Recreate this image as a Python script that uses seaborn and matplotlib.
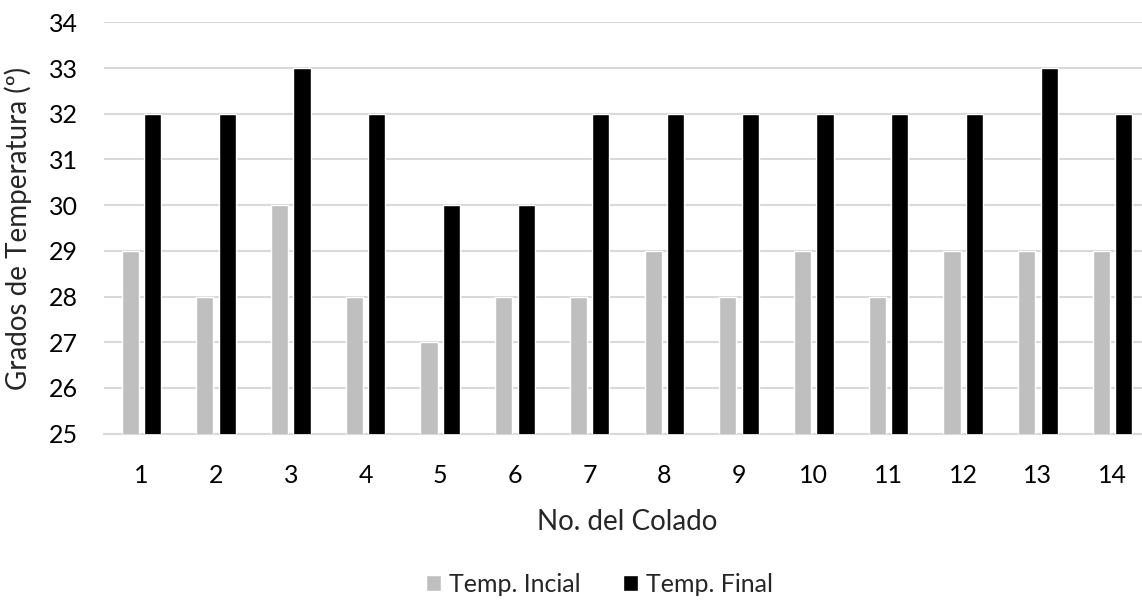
import matplotlib
matplotlib.use("Agg")
import matplotlib.pyplot as plt
import seaborn as sns
import pandas as pd
from matplotlib.patches import Patch

# Temperatures per pour (colado)
colados = [str(i) for i in range(1, 15)]
temp_inicial = [29, 28, 30, 28, 27, 28, 28, 29, 28, 29, 28, 29, 29, 29]
temp_final = [32, 32, 33, 32, 30, 30, 32, 32, 32, 32, 32, 32, 33, 32]
series = ["Temp. Incial", "Temp. Final"]
y_ticks = list(range(25, 35))

df = pd.DataFrame({
    "colado": colados * 2,
    "temp": temp_inicial + temp_final,
    "serie": [series[0]] * len(colados) + [series[1]] * len(colados),
})

sns.set_theme(style="white")
plt.rcParams["font.family"] = ["Lato", "DejaVu Sans"]

fig = plt.figure(figsize=(11.42, 6.0), dpi=100)
ax = fig.add_axes([104 / 1142, 1 - 433.7 / 600, (1150 - 104) / 1142, (433.7 - 22.3) / 600])

sns.barplot(
    data=df, x="colado", y="temp", hue="serie", order=colados, hue_order=series,
    palette=["#bfbfbf", "#000000"], width=0.6, gap=0.23, saturation=1,
    ax=ax, legend=False, zorder=3,
)

ax.set_ylim(25, 34)
ax.set_yticks(y_ticks)
ax.set_xlim(-0.5, len(colados) - 0.5)
ax.grid(axis="y", color="#d9d9d9", linewidth=1.5, zorder=0)
ax.set_axisbelow(True)
for side in ["top", "right", "left"]:
    ax.spines[side].set_visible(False)
ax.spines["bottom"].set_color("#d9d9d9")
ax.spines["bottom"].set_linewidth(1.5)
ax.tick_params(axis="both", length=0, labelsize=18, colors="#000000")
ax.tick_params(axis="y", pad=19)
ax.tick_params(axis="x", pad=22)

ax.set_xlabel("No. del Colado", fontsize=20, labelpad=16)
ax.set_ylabel("Grados de Temperatura (º)", fontsize=20, labelpad=12)

handles = [Patch(facecolor="#bfbfbf"), Patch(facecolor="#000000")]
fig.legend(handles, series, loc="center", bbox_to_anchor=(0.525, 1 - 584 / 600),
           ncol=2, frameon=False, fontsize=18, handlelength=0.6, handleheight=0.6,
           handletextpad=0.3, columnspacing=1.7)

fig.savefig("out.png", dpi=100)
